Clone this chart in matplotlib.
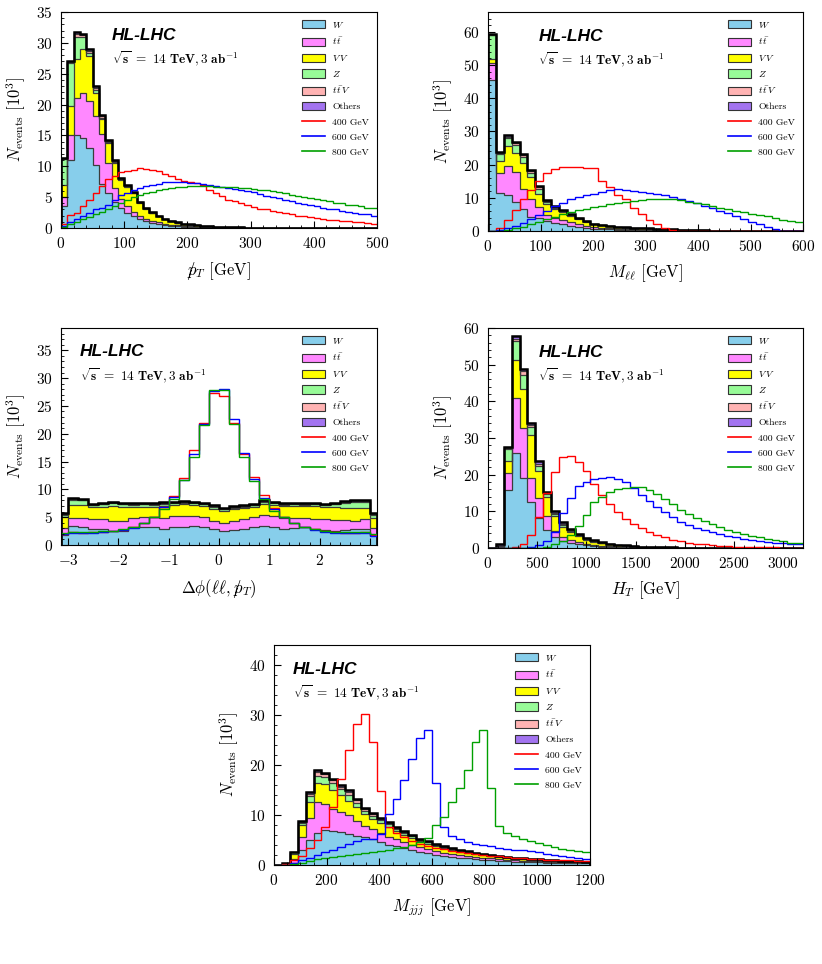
import numpy as np
import matplotlib
matplotlib.use('Agg')
import matplotlib.pyplot as plt
from matplotlib.patches import Patch
from matplotlib.lines import Line2D
from matplotlib.ticker import MultipleLocator

plt.rcParams['font.family'] = 'serif'
plt.rcParams['font.serif'] = ['cmr10']
plt.rcParams['mathtext.fontset'] = 'cm'
plt.rcParams['axes.formatter.use_mathtext'] = True

# ---- legend / style ----
bkg_labels = [r'$W$', r'$t\,\bar{t}$', r'$V\,V$', r'$Z$', r'$t\,\bar{t}\,V$', 'Others']
bkg_colors = ['#87CEEB', '#FF88FF', '#FFFF00', '#98FB98', '#FFB3B3', '#A374F0']
sig_labels = ['400 GeV', '600 GeV', '800 GeV']
sig_colors = ['#FF0000', '#0000FF', '#00A000']

# ---- MET, 10 GeV bins 0-500 ----
met_W = [3.5, 11.0, 15.0, 14.6, 13.0, 10.2, 7.2, 5.6, 4.2, 3.2,
         2.5, 1.9, 1.4, 1.1, 0.85, 0.65, 0.5, 0.38, 0.3, 0.23,
         0.18, 0.14, 0.11, 0.09, 0.07, 0.055, 0.045, 0.035, 0.03, 0.025,
         0.02, 0.016, 0.013, 0.01, 0.008, 0.007, 0.006, 0.005, 0.004, 0.003,
         0, 0, 0, 0, 0, 0, 0, 0, 0, 0]
met_tt = [1.5, 4.0, 6.0, 7.2, 7.5, 8.0, 8.0, 5.0, 2.3, 1.5,
          1.0, 0.7, 0.55, 0.42, 0.33, 0.26, 0.2, 0.16, 0.12, 0.1,
          0.08, 0.06, 0.05, 0.04, 0.03, 0.025, 0.02, 0.015, 0.012, 0.01,
          0.008, 0.006, 0.005, 0.004, 0.003, 0.003, 0.002, 0.002, 0.001, 0.001,
          0, 0, 0, 0, 0, 0, 0, 0, 0, 0]
met_VV = [2.0, 4.8, 6.4, 7.2, 7.3, 3.6, 2.4, 3.1, 4.0, 3.1,
          3.1, 3.0, 2.1, 1.6, 1.25, 0.97, 0.75, 0.57, 0.44, 0.35,
          0.28, 0.23, 0.19, 0.15, 0.12, 0.095, 0.075, 0.06, 0.05, 0.04,
          0.032, 0.027, 0.022, 0.018, 0.015, 0.012, 0.01, 0.008, 0.006, 0.004,
          0, 0, 0, 0, 0, 0, 0, 0, 0, 0]
met_Z = [4.2, 6.9, 3.6, 1.9, 0.5, 0.5, 0.3, 0.2, 0.2, 0.15,
         0.15, 0.12, 0.1, 0.08, 0.06, 0.05, 0.04, 0.03, 0.025, 0.02,
         0.015, 0.012, 0.01, 0.008, 0.006, 0.005, 0.004, 0.003, 0.002, 0.002,
         0, 0, 0, 0, 0, 0, 0, 0, 0, 0,
         0, 0, 0, 0, 0, 0, 0, 0, 0, 0]
met_ttV = [0.1, 0.2, 0.4, 0.4, 0.4, 0.4, 0.3, 0.2, 0.15, 0.12,
           0.1, 0.08, 0.06, 0.05, 0.04, 0.03, 0.03, 0.02, 0.02, 0.015,
           0.01, 0.01, 0.008, 0.006, 0.005, 0.004, 0.003, 0.002, 0.002, 0.001,
           0, 0, 0, 0, 0, 0, 0, 0, 0, 0,
           0, 0, 0, 0, 0, 0, 0, 0, 0, 0]
met_oth = [0.1, 0.1, 0.3, 0.2, 0.3, 0.3, 0.1, 0.1, 0.1, 0.08,
           0.06, 0.05, 0.04, 0.03, 0.02, 0.02, 0.015, 0.012, 0.01, 0.008,
           0.006, 0.005, 0.004, 0.003, 0.002, 0.002, 0.001, 0.001, 0.001, 0.001,
           0, 0, 0, 0, 0, 0, 0, 0, 0, 0,
           0, 0, 0, 0, 0, 0, 0, 0, 0, 0]
met_s400 = [0.7, 2.1, 2.5, 3.5, 4.6, 5.7, 6.8, 7.9, 8.4, 9.0,
            9.2, 9.4, 9.8, 9.6, 9.4, 9.2, 8.7, 8.4, 7.9, 7.6,
            7.4, 7.3, 7.0, 6.2, 5.7, 5.2, 4.6, 4.3, 4.0, 3.8,
            3.4, 3.1, 3.0, 2.7, 2.55, 2.4, 2.2, 2.0, 1.9, 1.8,
            1.6, 1.5, 1.35, 1.3, 1.2, 1.1, 1.0, 0.9, 0.8, 0.7]
met_s600 = [0.3, 1.0, 1.4, 2.0, 2.5, 3.0, 3.3, 3.8, 4.5, 5.3,
            5.7, 6.2, 6.5, 6.8, 7.0, 7.2, 7.4, 7.5, 7.5, 7.4,
            7.3, 7.3, 7.1, 7.0, 6.8, 6.7, 6.5, 6.4, 6.2, 6.0,
            5.8, 5.5, 5.2, 5.0, 4.8, 4.5, 4.3, 4.1, 3.9, 3.7,
            3.5, 3.3, 3.1, 3.0, 2.8, 2.6, 2.5, 2.3, 2.2, 2.0]
met_s800 = [0.2, 0.6, 1.0, 1.4, 1.8, 2.2, 2.6, 3.0, 3.5, 4.0,
            4.5, 5.0, 5.4, 5.7, 5.9, 6.1, 6.3, 6.5, 6.6, 6.7,
            6.8, 6.8, 6.8, 6.8, 6.7, 6.7, 6.6, 6.6, 6.5, 6.5,
            6.4, 6.2, 6.1, 6.0, 5.8, 5.6, 5.4, 5.2, 5.0, 4.9,
            4.7, 4.5, 4.3, 4.1, 4.0, 3.8, 3.7, 3.5, 3.3, 3.2]

# ---- M_ll, 15 GeV bins 0-600 ----
mll_W = [45.6, 11.5, 10.8, 8.8, 6.5, 4.3, 3.8, 3.0, 2.4, 2.0,
         1.6, 1.3, 1.0, 0.75, 0.6, 0.5, 0.42, 0.35, 0.3, 0.26,
         0.22, 0.18, 0.15, 0.12, 0.1, 0.08, 0.06, 0.05, 0.04, 0.03,
         0.02, 0.015, 0.01, 0.005, 0, 0, 0, 0, 0, 0]
mll_tt = [4.9, 6.1, 8.9, 9.1, 6.3, 5.2, 3.5, 1.9, 1.4, 1.2,
          1.0, 0.8, 0.6, 0.45, 0.35, 0.3, 0.25, 0.2, 0.17, 0.15,
          0.13, 0.11, 0.09, 0.07, 0.06, 0.05, 0.04, 0.03, 0.02, 0.015,
          0.01, 0.008, 0.005, 0.003, 0, 0, 0, 0, 0, 0]
mll_VV = [1.3, 3.4, 6.0, 5.7, 7.8, 6.8, 4.0, 3.1, 2.9, 2.5,
          2.0, 1.6, 1.2, 0.85, 0.72, 0.6, 0.53, 0.45, 0.42, 0.38,
          0.35, 0.3, 0.27, 0.23, 0.18, 0.14, 0.11, 0.08, 0.06, 0.04,
          0.03, 0.02, 0.01, 0.005, 0, 0, 0, 0, 0, 0]
mll_Z = [7.2, 2.2, 2.2, 2.2, 1.8, 1.1, 1.5, 0.6, 0.3, 0.2,
         0.15, 0.1, 0.08, 0.06, 0.05, 0.04, 0.04, 0.03, 0.03, 0.03,
         0.02, 0.02, 0.02, 0.02, 0.01, 0.01, 0.01, 0.005, 0, 0,
         0, 0, 0, 0, 0, 0, 0, 0, 0, 0]
mll_ttV = [0.2, 0.4, 0.5, 0.6, 0.4, 0.6, 0.4, 0.3, 0.2, 0.2,
           0.15, 0.1, 0.07, 0.05, 0.04, 0.03, 0.03, 0.03, 0.03, 0.03,
           0.03, 0.03, 0.02, 0.02, 0.02, 0.01, 0.01, 0.01, 0.005, 0.005,
           0, 0, 0, 0, 0, 0, 0, 0, 0, 0]
mll_oth = [0.1, 0.3, 0.5, 0.5, 0.4, 0.5, 0.3, 0.3, 0.3, 0.2,
           0.1, 0.1, 0.05, 0.04, 0.04, 0.03, 0.03, 0.04, 0.05, 0.05,
           0.05, 0.06, 0.05, 0.04, 0.03, 0.02, 0.02, 0.015, 0.01, 0.01,
           0, 0, 0, 0, 0, 0, 0, 0, 0, 0]
mll_s400 = [0, 1.0, 3.3, 6.3, 9.5, 12.5, 15.0, 17.5, 18.8, 19.4,
            19.3, 19.2, 19.0, 19.0, 15.0, 13.3, 11.0, 9.5, 6.8, 5.0,
            3.4, 2.1, 1.0, 0.4, 0.1, 0.05, 0.03, 0.02, 0.01, 0,
            0, 0, 0, 0, 0, 0, 0, 0, 0, 0]
mll_s600 = [0, 0.3, 0.8, 1.5, 2.5, 3.5, 4.7, 6.0, 7.5, 8.5,
            9.5, 10.2, 10.8, 11.3, 11.8, 12.3, 12.7, 12.5, 12.2, 11.9,
            11.5, 11.1, 10.7, 10.2, 9.6, 9.0, 8.3, 7.6, 6.9, 6.1,
            5.3, 4.4, 3.6, 2.8, 2.0, 1.2, 0.5, 0.1, 0, 0]
mll_s800 = [0, 0.1, 0.4, 0.8, 1.3, 2.0, 2.8, 3.5, 4.3, 5.0,
            5.6, 6.2, 6.7, 7.2, 7.6, 8.0, 8.4, 8.7, 9.0, 9.3,
            9.5, 9.7, 9.6, 9.5, 9.2, 8.8, 8.4, 8.0, 7.5, 7.0,
            6.5, 6.0, 5.6, 5.2, 4.8, 4.4, 3.9, 3.4, 3.0, 2.6]

# ---- Delta phi(ll, MET): edge bins + 0.2 bins ----
dphi_W = [1.8, 3.4, 3.3, 2.9, 2.8, 2.6, 2.6, 3.2, 3.2, 3.2, 2.9, 3.3, 3.3, 3.4, 3.2, 2.8,
          2.6, 2.7, 2.9, 3.2, 3.5, 3.2, 2.9, 3.1, 3.3, 2.8, 2.7, 2.6, 2.7, 2.8, 2.9, 1.8]
dphi_tt = [1.2, 1.5, 1.5, 1.7, 1.8, 1.8, 1.7, 1.7, 1.8, 1.8, 1.9, 1.9, 2.0, 1.8, 1.8, 1.5,
           1.4, 1.6, 1.7, 1.8, 1.9, 2.0, 2.0, 1.8, 1.5, 1.8, 1.9, 1.9, 1.8, 1.6, 1.7, 1.2]
dphi_VV = [2.0, 2.3, 2.3, 2.2, 2.3, 2.6, 2.6, 1.9, 1.9, 1.8, 2.2, 2.0, 2.0, 2.0, 2.0, 2.2,
           2.2, 2.2, 2.0, 1.9, 2.0, 2.0, 2.1, 2.1, 2.2, 2.4, 2.2, 2.3, 2.2, 2.3, 2.0, 1.9]
dphi_Z = [0.4, 0.9, 0.9, 0.3, 0.4, 0.5, 0.4, 0.4, 0.4, 0.4, 0.4, 0.3, 0.3, 0.3, 0.3, 0.3,
          0.2, 0.2, 0.2, 0.2, 0.3, 0.3, 0.2, 0.3, 0.2, 0.3, 0.3, 0.5, 0.9, 1.0, 1.2, 0.5]
dphi_ttV = [0.1, 0.15, 0.15, 0.15, 0.15, 0.15, 0.15, 0.15, 0.15, 0.15, 0.15, 0.15, 0.15, 0.15, 0.15, 0.15,
            0.15, 0.15, 0.15, 0.15, 0.15, 0.15, 0.15, 0.15, 0.15, 0.15, 0.15, 0.15, 0.15, 0.15, 0.15, 0.1]
dphi_oth = [0.2, 0.15, 0.15, 0.15, 0.15, 0.15, 0.15, 0.15, 0.15, 0.15, 0.15, 0.15, 0.15, 0.15, 0.15, 0.15,
            0.15, 0.15, 0.15, 0.15, 0.15, 0.15, 0.15, 0.15, 0.15, 0.15, 0.15, 0.15, 0.15, 0.15, 0.15, 0.2]
dphi_s400 = [2.0, 2.3, 2.2, 2.3, 2.4, 2.5, 2.7, 3.2, 4.0, 5.0, 6.8, 8.8, 12.0, 17.0, 22.0, 27.3,
             26.7, 22.0, 16.3, 12.2, 9.0, 6.6, 5.0, 4.0, 3.3, 2.8, 2.5, 2.3, 2.2, 2.2, 2.3, 1.8]
dphi_s600 = [1.9, 2.2, 2.2, 2.2, 2.3, 2.5, 2.7, 3.1, 4.0, 5.0, 6.8, 8.6, 11.6, 16.3, 21.8, 27.7,
             28.1, 22.6, 16.6, 11.8, 8.5, 6.4, 5.0, 3.9, 3.2, 2.7, 2.4, 2.2, 2.1, 2.1, 2.2, 1.7]
dphi_s800 = [2.1, 2.4, 2.3, 2.4, 2.5, 2.6, 2.8, 3.2, 4.0, 5.0, 6.4, 8.3, 11.6, 15.9, 21.6, 27.9,
             27.8, 21.7, 15.9, 11.5, 8.2, 6.2, 5.0, 4.0, 3.3, 2.8, 2.5, 2.4, 2.3, 2.3, 2.4, 1.9]

# ---- H_T, 80 GeV bins 0-3200 ----
ht_W = [0, 0.1, 15.9, 26.0, 19.0, 12.5, 8.3, 5.0, 3.0, 1.8,
        1.3, 1.0, 0.7, 0.5, 0.38, 0.28, 0.21, 0.16, 0.12, 0.1,
        0.07, 0.06, 0.05, 0.04, 0.03, 0.03, 0.02, 0.01, 0.01, 0,
        0, 0, 0, 0, 0, 0, 0, 0, 0, 0]
ht_tt = [0, 0.1, 4.6, 15.0, 13.7, 6.5, 5.3, 3.6, 1.7, 1.1,
         0.8, 0.6, 0.45, 0.35, 0.26, 0.2, 0.15, 0.12, 0.08, 0.06,
         0.05, 0.04, 0.03, 0.02, 0.02, 0.015, 0.01, 0.01, 0, 0,
         0, 0, 0, 0, 0, 0, 0, 0, 0, 0]
ht_VV = [0, 0.1, 3.3, 10.3, 10.8, 11.8, 7.4, 5.2, 3.9, 2.9,
         2.2, 1.6, 1.15, 0.85, 0.65, 0.5, 0.37, 0.29, 0.2, 0.16,
         0.12, 0.1, 0.08, 0.06, 0.05, 0.04, 0.04, 0.03, 0.03, 0.02,
         0.02, 0.01, 0, 0, 0, 0, 0, 0, 0, 0]
ht_Z = [0, 0.3, 3.2, 5.2, 3.8, 2.1, 1.5, 0.8, 0.6, 0.5,
        0.4, 0.3, 0.2, 0.15, 0.12, 0.09, 0.07, 0.05, 0.04, 0.03,
        0.02, 0.02, 0.02, 0.01, 0.01, 0.01, 0, 0, 0, 0,
        0, 0, 0, 0, 0, 0, 0, 0, 0, 0]
ht_ttV = [0, 0, 0.3, 0.5, 0.9, 0.7, 0.5, 0.4, 0.4, 0.3,
          0.2, 0.2, 0.15, 0.12, 0.09, 0.07, 0.05, 0.04, 0.03, 0.03,
          0.02, 0.02, 0.01, 0.01, 0.01, 0.005, 0, 0, 0, 0,
          0, 0, 0, 0, 0, 0, 0, 0, 0, 0]
ht_oth = [0, 0.4, 0.3, 0.8, 0.6, 0.6, 0.6, 0.4, 0.4, 0.4,
          0.3, 0.2, 0.15, 0.13, 0.1, 0.06, 0.05, 0.04, 0.03, 0.02,
          0.02, 0.01, 0.01, 0.01, 0, 0, 0, 0, 0, 0,
          0, 0, 0, 0, 0, 0, 0, 0, 0, 0]
ht_s400 = [0, 0, 0, 0.2, 1.0, 3.5, 8.5, 15.0, 20.8, 24.8,
           25.0, 23.5, 21.0, 17.5, 14.5, 12.0, 9.8, 8.0, 6.5, 5.4,
           4.4, 3.6, 2.9, 2.3, 1.9, 1.5, 1.2, 1.0, 0.8, 0.65,
           0.5, 0.4, 0.35, 0.3, 0.25, 0.2, 0.15, 0.12, 0.1, 0.08]
ht_s600 = [0, 0, 0, 0, 0, 0.2, 0.7, 2.0, 4.5, 9.5,
           13.6, 17.0, 18.0, 18.8, 19.0, 19.3, 18.8, 18.0, 16.4, 14.5,
           12.8, 11.3, 9.8, 8.5, 7.2, 6.3, 5.5, 4.8, 4.3, 3.8,
           3.3, 2.9, 2.5, 2.2, 1.9, 1.7, 1.5, 1.3, 1.1, 1.0]
ht_s800 = [0, 0, 0, 0, 0, 0, 0.1, 0.3, 1.0, 1.8,
           3.5, 6.0, 9.0, 12.5, 14.0, 15.3, 16.0, 16.3, 16.6, 16.6,
           15.8, 14.8, 13.5, 12.0, 10.5, 9.3, 8.3, 7.3, 6.5, 5.7,
           5.0, 4.4, 3.8, 3.3, 2.9, 2.5, 2.1, 1.8, 1.5, 1.3]

# ---- M_jjj, 30 GeV bins 0-1200 ----
mjjj_W = [0, 0.1, 0.5, 3.0, 5.0, 6.5, 7.1, 6.9, 6.6, 6.3,
          5.9, 5.6, 5.2, 4.6, 4.1, 3.8, 3.4, 3.0, 2.7, 2.4,
          2.1, 1.9, 1.7, 1.5, 1.35, 1.2, 1.1, 1.0, 0.9, 0.8,
          0.7, 0.65, 0.6, 0.55, 0.5, 0.45, 0.4, 0.36, 0.34, 0.32]
mjjj_tt = [0, 0.1, 0.8, 2.7, 4.5, 6.1, 5.2, 4.4, 4.1, 3.7,
           3.0, 2.2, 2.0, 1.9, 1.6, 1.4, 1.2, 1.1, 0.9, 0.8,
           0.7, 0.6, 0.55, 0.5, 0.45, 0.4, 0.37, 0.33, 0.3, 0.27,
           0.24, 0.22, 0.2, 0.18, 0.16, 0.15, 0.13, 0.12, 0.11, 0.1]
mjjj_VV = [0, 0.05, 1.0, 2.3, 3.2, 3.8, 3.9, 3.8, 3.3, 2.8,
           2.7, 2.4, 2.1, 2.0, 2.0, 1.6, 1.4, 1.3, 1.2, 1.1,
           1.0, 0.9, 0.8, 0.7, 0.6, 0.55, 0.5, 0.45, 0.4, 0.36,
           0.32, 0.3, 0.28, 0.26, 0.24, 0.22, 0.2, 0.18, 0.17, 0.16]
mjjj_Z = [0, 0.05, 0.3, 0.5, 1.1, 1.5, 1.5, 1.4, 1.2, 1.2,
          0.9, 0.7, 0.6, 0.5, 0.5, 0.5, 0.5, 0.4, 0.3, 0.3,
          0.3, 0.3, 0.25, 0.2, 0.2, 0.18, 0.16, 0.15, 0.14, 0.13,
          0.12, 0.11, 0.1, 0.09, 0.08, 0.07, 0.07, 0.06, 0.06, 0.05]
mjjj_ttV = [0, 0, 0.05, 0.2, 0.5, 0.7, 0.5, 0.5, 0.5, 0.6,
            0.5, 0.3, 0.3, 0.2, 0.3, 0.2, 0.2, 0.2, 0.1, 0.1,
            0.1, 0.1, 0.1, 0.1, 0.1, 0.09, 0.08, 0.08, 0.07, 0.06,
            0.05, 0.05, 0.05, 0.05, 0.05, 0.04, 0.04, 0.03, 0.03, 0.03]
mjjj_oth = [0, 0.02, 0.05, 0.1, 0.4, 0.4, 0.3, 0.3, 0.4, 0.4,
            0.3, 0.3, 0.3, 0.2, 0.2, 0.1, 0.2, 0.1, 0.1, 0.1,
            0.1, 0.1, 0.1, 0.1, 0.1, 0.08, 0.09, 0.09, 0.09, 0.08,
            0.07, 0.07, 0.07, 0.07, 0.07, 0.07, 0.06, 0.05, 0.04, 0.04]
mjjj_s400 = [0, 0.2, 1.1, 1.8, 3.5, 5.0, 7.7, 11.7, 17.2, 23.1,
             28.3, 30.2, 24.7, 14.8, 7.7, 6.5, 5.6, 4.9, 4.3, 3.9,
             3.5, 3.2, 2.9, 2.7, 2.5, 2.3, 2.1, 1.9, 1.8, 1.7,
             1.5, 1.4, 1.3, 1.2, 1.1, 1.05, 1.0, 0.95, 0.9, 0.85]
mjjj_s600 = [0, 0.1, 0.5, 1.0, 1.5, 2.0, 2.7, 3.1, 3.6, 4.3,
             4.8, 5.2, 5.3, 6.3, 10.3, 13.2, 17.0, 21.3, 25.5, 27.0,
             16.5, 7.6, 5.8, 5.2, 4.7, 4.3, 4.1, 3.9, 3.5, 3.2,
             3.0, 3.0, 2.8, 2.6, 2.3, 2.1, 1.9, 1.6, 1.4, 1.2]
mjjj_s800 = [0, 0.05, 0.2, 0.5, 0.9, 1.2, 1.5, 1.7, 1.9, 2.1,
             2.3, 2.5, 2.7, 2.9, 3.1, 3.4, 3.7, 4.1, 4.7, 5.4,
             8.0, 9.7, 12.6, 15.4, 19.1, 24.6, 27.0, 15.5, 7.9, 6.5,
             5.8, 5.2, 4.8, 4.5, 4.0, 3.6, 3.3, 3.0, 2.8, 2.6]


def draw_panel(ax, edges, bkgs, sigs, xlabel, xlim, ylim, xmaj, xmin, ymaj, ymin, tx):
    bottom = np.zeros(len(edges) - 1)
    tops = []
    for vals, col in zip(bkgs, bkg_colors):
        top = bottom + np.asarray(vals, dtype=float)
        ax.stairs(top, edges, baseline=bottom, fill=True, color=col, lw=0)
        tops.append(top)
        bottom = top
    for top in tops:
        ax.stairs(top, edges, baseline=0, color='#3c3c3c', lw=0.9)
    ax.stairs(tops[-1], edges, baseline=0, color='black', lw=1.8)
    for vals, col in zip(sigs, sig_colors):
        ax.stairs(vals, edges, baseline=None, color=col, lw=1.0)

    ax.set_xlim(*xlim)
    ax.set_ylim(*ylim)
    ax.xaxis.set_major_locator(MultipleLocator(xmaj))
    ax.xaxis.set_minor_locator(MultipleLocator(xmin))
    ax.yaxis.set_major_locator(MultipleLocator(ymaj))
    ax.yaxis.set_minor_locator(MultipleLocator(ymin))
    ax.tick_params(which='both', direction='in', top=False, right=False, labelsize=11)
    ax.tick_params(which='major', length=5)
    ax.tick_params(which='minor', length=2.5)
    ax.tick_params(axis='x', which='major', pad=6)
    ax.tick_params(axis='y', which='major', pad=6)
    ax.set_xlabel(xlabel, fontsize=12, labelpad=6)
    ax.set_ylabel(r'$N_{\rm events}\ [10^3]$', fontsize=12, labelpad=6)

    handles = [Patch(facecolor=c, edgecolor='#333333', lw=0.8, label=l)
               for c, l in zip(bkg_colors, bkg_labels)]
    handles += [Line2D([], [], color=c, lw=1.2, label=l) for c, l in zip(sig_colors, sig_labels)]
    ax.legend(handles=handles, loc='upper right', frameon=False, fontsize=7,
              handlelength=2.3, handleheight=0.9, labelspacing=0.6, handletextpad=0.8,
              borderaxespad=0.4)

    ax.text(tx, 0.89, 'HL-LHC', transform=ax.transAxes, family='Liberation Sans',
            fontweight='bold', fontstyle='italic', fontsize=12.5, va='center')
    ax.text(tx, 0.778, r'$\sqrt{\mathbf{s}}\ \mathbf{=\ 14\ TeV,3\ ab^{-1}}$',
            transform=ax.transAxes, fontsize=9.5, va='center')


fig = plt.figure(figsize=(8.22, 9.64), dpi=100)
W, H = 822.0, 964.0
ax1 = fig.add_axes([61 / W, 1 - 228 / H, 316 / W, 216 / H])
ax2 = fig.add_axes([488 / W, 1 - 231 / H, 315 / W, 219 / H])
ax3 = fig.add_axes([61 / W, 1 - 545 / H, 316 / W, 217 / H])
ax4 = fig.add_axes([488 / W, 1 - 548 / H, 315 / W, 220 / H])
ax5 = fig.add_axes([274 / W, 1 - 865 / H, 316 / W, 220 / H])

met_edges = np.linspace(0, 500, len(met_W) + 1)
draw_panel(ax1, met_edges, [met_W, met_tt, met_VV, met_Z, met_ttV, met_oth],
           [met_s400, met_s600, met_s800], r'$/\!\!\!p_T$ [GeV]',
           (0, 500), (0, 35), 100, 20, 5, 1, 0.16)

mll_edges = np.linspace(0, 600, len(mll_W) + 1)
draw_panel(ax2, mll_edges, [mll_W, mll_tt, mll_VV, mll_Z, mll_ttV, mll_oth],
           [mll_s400, mll_s600, mll_s800], r'$M_{\ell\ell}$ [GeV]',
           (0, 600), (0, 66), 100, 20, 10, 2, 0.16)

dphi_edges = np.concatenate([[-np.pi], np.linspace(-3.0, 3.0, len(dphi_W) - 1), [np.pi]])
draw_panel(ax3, dphi_edges, [dphi_W, dphi_tt, dphi_VV, dphi_Z, dphi_ttV, dphi_oth],
           [dphi_s400, dphi_s600, dphi_s800], r'$\Delta\phi(\ell\ell, /\!\!\!p_T)$',
           (-np.pi, np.pi), (0, 39), 1, 0.2, 5, 1, 0.06)

ht_edges = np.linspace(0, 3200, len(ht_W) + 1)
draw_panel(ax4, ht_edges, [ht_W, ht_tt, ht_VV, ht_Z, ht_ttV, ht_oth],
           [ht_s400, ht_s600, ht_s800], r'$H_T$ [GeV]',
           (0, 3200), (0, 60), 500, 100, 10, 2, 0.16)

mjjj_edges = np.linspace(0, 1200, len(mjjj_W) + 1)
draw_panel(ax5, mjjj_edges, [mjjj_W, mjjj_tt, mjjj_VV, mjjj_Z, mjjj_ttV, mjjj_oth],
           [mjjj_s400, mjjj_s600, mjjj_s800], r'$M_{jjj}$ [GeV]',
           (0, 1200), (0, 44), 200, 50, 10, 2, 0.06)

fig.savefig('out.png', dpi=100)
